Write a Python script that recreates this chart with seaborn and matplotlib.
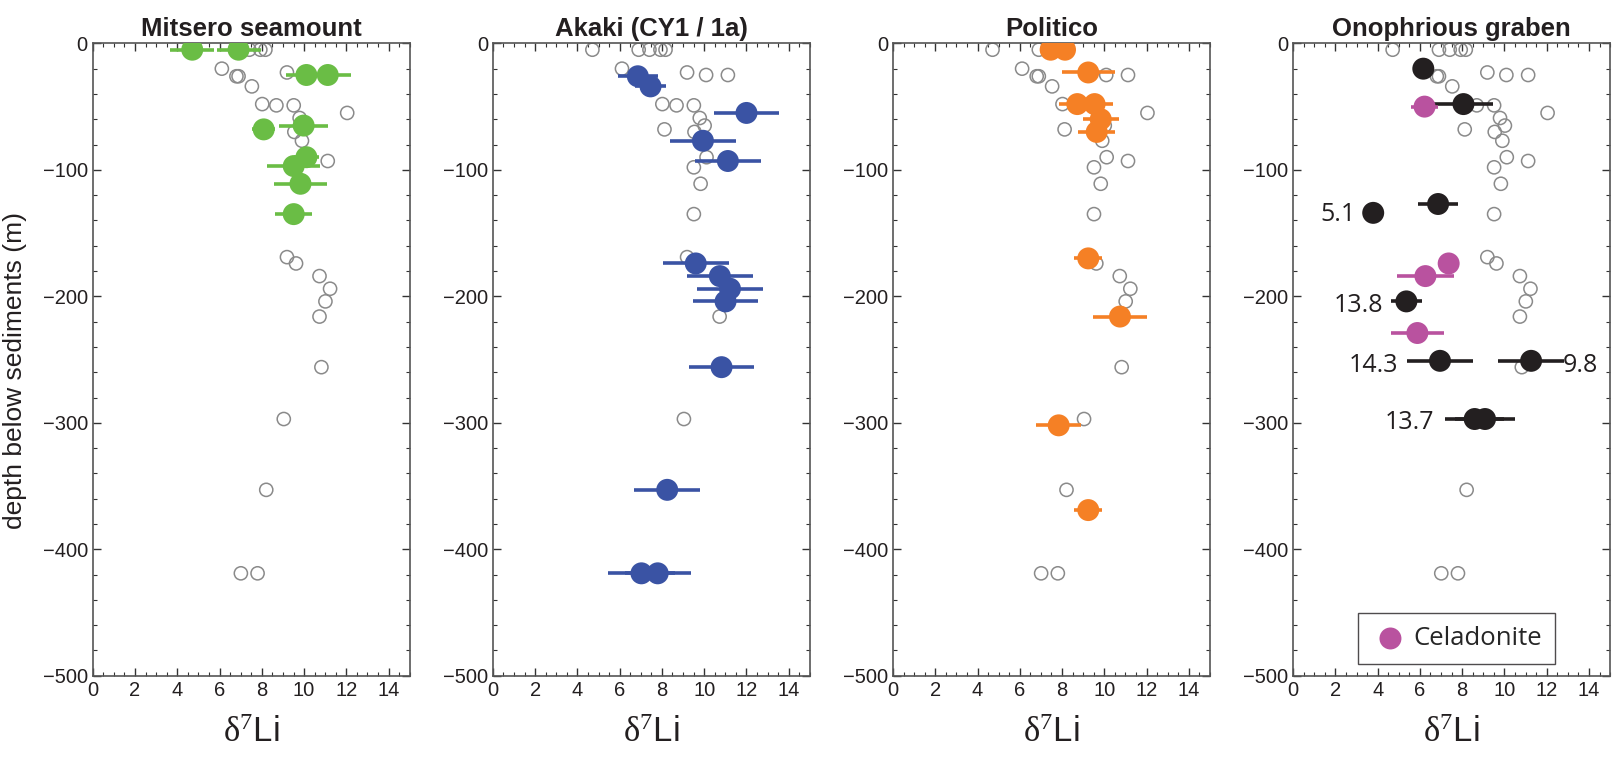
import numpy as np
import pandas as pd
import seaborn as sns
import matplotlib.pyplot as plt
from matplotlib.ticker import MultipleLocator

sns.set_style("ticks")
plt.rcParams["font.family"] = ["Liberation Sans", "DejaVu Sans"]
plt.rcParams["mathtext.fontset"] = "custom"
plt.rcParams["mathtext.rm"] = "Liberation Serif"
plt.rcParams["mathtext.it"] = "Liberation Serif"

# grey open circles, shown in every panel (whole data set)
bg_li = [4.71, 6.90, 7.41, 7.93, 8.17, 6.11, 9.19, 10.09, 11.12, 6.8, 6.9, 7.53,
         8.02, 8.69, 9.51, 12.04, 9.79, 10.02, 8.12, 9.54, 9.90, 10.11, 11.12, 9.51,
         9.83, 9.51, 9.19, 9.62, 10.73, 11.23, 11.01, 10.73, 10.82, 9.04, 8.21, 7.01, 7.80]
bg_depth = [-5, -5, -5, -5, -5, -20, -23, -25, -25, -26, -26, -34,
            -48, -49, -49, -55, -59, -65, -68, -70, -77, -90, -93, -98,
            -111, -135, -169, -174, -184, -194, -204, -216, -256, -297, -353, -419, -419]

# Mitsero seamount
mitsero_li = [4.71, 6.90, 10.11, 11.12, 8.09, 9.98, 10.11, 9.51, 9.83, 9.51]
mitsero_depth = [-5, -5, -25, -25, -68, -65, -90, -97, -111, -135]
mitsero_err = [1.03, 1.04, 0.95, 1.12, 0.55, 1.16, 0.6, 1.26, 1.26, 0.87]

# Akaki (CY1 / 1a)
akaki_li = [6.86, 7.46, 12.0, 9.94, 11.12, 9.60, 10.74, 11.22, 11.01, 10.82, 8.25, 7.03, 7.80]
akaki_depth = [-26, -34, -55, -77, -93, -174, -184, -194, -204, -256, -353, -419, -419]
akaki_err = [0.96, 0.73, 1.55, 1.55, 1.56, 1.56, 1.55, 1.55, 1.55, 1.54, 1.55, 1.57, 1.57]

# Politico
politico_li = [7.46, 8.14, 9.24, 8.72, 9.54, 9.83, 9.64, 9.24, 10.74, 7.84, 9.24]
politico_depth = [-5, -5, -23, -48, -48, -60, -70, -170, -216, -302, -369]
politico_err = [0.4, 0.4, 1.26, 0.87, 0.87, 0.86, 0.87, 0.67, 1.26, 1.06, 0.67]

# Onophrious graben
onoph_li = [6.16, 8.06, 6.86, 3.79, 5.36, 6.95, 11.26, 8.59, 9.08]
onoph_depth = [-20, -48, -127, -134, -204, -251, -251, -297, -297]
onoph_err = [0, 1.39, 0.95, 0, 0.75, 1.56, 1.55, 1.4, 1.4]
onoph_labels = ["", "", "", "5.1", "13.8", "14.3", "9.8", "13.7", ""]

celad_li = [6.22, 7.36, 6.26, 5.88]
celad_depth = [-50, -174, -184, -229]
celad_err = [0.65, 0, 1.36, 1.25]

titles = ["Mitsero seamount", "Akaki (CY1 / 1a)", "Politico", "Onophrious graben"]

GREEN = "#6abd45"
BLUE = "#3a53a4"
ORANGE = "#f58025"
MAGENTA = "#b9529f"
BLACK = "#231f20"

bg = pd.DataFrame({"li": bg_li, "depth": bg_depth})


def draw_series(ax, li, depth, err, color, label=None):
    df = pd.DataFrame({"li": li, "depth": depth, "err": err})
    ax.hlines(df["depth"], df["li"] - df["err"], df["li"] + df["err"],
              color=color, lw=2.6, zorder=3)
    sns.scatterplot(data=df, x="li", y="depth", ax=ax, color=color, s=250,
                    edgecolor="none", zorder=4, label=label, legend=False)


fig, axes = plt.subplots(1, 4, figsize=(16.15, 7.61), dpi=100)
fig.subplots_adjust(left=0.0574, right=0.997, bottom=0.112, top=0.943, wspace=0.262)

for ax in axes:
    sns.scatterplot(data=bg, x="li", y="depth", ax=ax, s=90, facecolor="none",
                    edgecolor="#8a8a8a", linewidth=1.1, zorder=2, legend=False)

draw_series(axes[0], mitsero_li, mitsero_depth, mitsero_err, GREEN)
draw_series(axes[1], akaki_li, akaki_depth, akaki_err, BLUE)
draw_series(axes[2], politico_li, politico_depth, politico_err, ORANGE)
draw_series(axes[3], onoph_li, onoph_depth, onoph_err, BLACK)
draw_series(axes[3], celad_li, celad_depth, celad_err, MAGENTA, label="Celadonite")

for ax, title in zip(axes, titles):
    ax.set_xlim(0, 15)
    ax.set_ylim(-500, 0)
    ax.xaxis.set_major_locator(MultipleLocator(2))
    ax.xaxis.set_minor_locator(MultipleLocator(0.5))
    ax.yaxis.set_major_locator(MultipleLocator(100))
    ax.yaxis.set_minor_locator(MultipleLocator(20))
    ax.tick_params(which="both", direction="in", top=True, right=True,
                   color="#333333", labelsize=14.5, labelcolor="#231f20")
    ax.tick_params(which="major", length=6, width=1)
    ax.tick_params(which="minor", length=3, width=0.8)
    for sp in ax.spines.values():
        sp.set_color("#555555")
        sp.set_linewidth(1.2)
    ax.set_title(title, fontsize=18.5, fontweight="bold", color=BLACK, pad=5)
    ax.set_xlabel(r"$\mathrm{\delta^{7}}$Li", fontsize=25, color=BLACK, labelpad=12)
    ax.set_ylabel("")

# numbers written next to some Onophrious samples
label_offsets = {"5.1": (-13, -1.5), "13.8": (-17, -3), "14.3": (-30, -3),
                 "9.8": (23, -3), "13.7": (-29, -2.5)}
for x, d, lab in zip(onoph_li, onoph_depth, onoph_labels):
    if lab:
        dx, dy = label_offsets[lab]
        axes[3].annotate(lab, xy=(x, d), xytext=(dx, dy), textcoords="offset points",
                         ha="left" if dx > 0 else "right", va="center",
                         fontsize=18, family=["Open Sans", "DejaVu Sans"], color=BLACK)

leg = axes[3].legend(loc="lower center", bbox_to_anchor=(0.516, 0.0185),
                     borderaxespad=0, frameon=True, fancybox=False, edgecolor=BLACK,
                     handletextpad=0.15, borderpad=0.5, handlelength=1.5,
                     prop={"family": ["Open Sans", "DejaVu Sans"], "size": 18.5})
leg.get_frame().set_linewidth(1.0)

axes[0].set_ylabel("depth below sediments (m)", fontsize=19, color=BLACK)
axes[0].yaxis.set_label_coords(-0.208, 0.482)

fig.savefig("out.png", dpi=100)
